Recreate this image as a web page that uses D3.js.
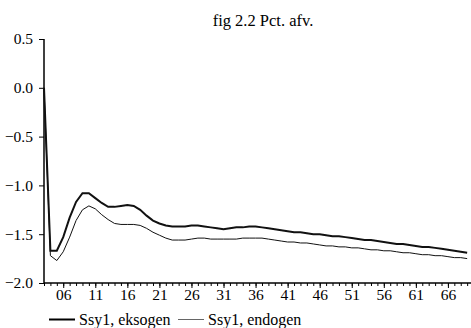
<!DOCTYPE html>
<html>
<head>
<meta charset="utf-8">
<script src="https://cdn.jsdelivr.net/npm/d3@7"></script>
<style>
body { margin: 0; background: #fff; }
svg { display: block; }
text { font-family: "Liberation Serif", "Times New Roman", serif; fill: #000; }
</style>
</head>
<body>
<script>
// periods 03..69
var periods = d3.range(3, 70);

var eksogen = [
    0.00, -1.67, -1.67, -1.53, -1.33, -1.17, -1.08, -1.08, -1.13, -1.18,
    -1.22, -1.22, -1.21, -1.20, -1.21, -1.25, -1.31, -1.36, -1.39, -1.41,
    -1.42, -1.42, -1.42, -1.41, -1.41, -1.42, -1.43, -1.44, -1.45, -1.44,
    -1.43, -1.43, -1.42, -1.42, -1.43, -1.44, -1.45, -1.46, -1.47, -1.48,
    -1.48, -1.49, -1.50, -1.50, -1.51, -1.52, -1.52, -1.53, -1.54, -1.55,
    -1.56, -1.56, -1.57, -1.58, -1.59, -1.60, -1.60, -1.61, -1.62, -1.63,
    -1.63, -1.64, -1.65, -1.66, -1.67, -1.68, -1.69
];

var endogen = [
    0.00, -1.72, -1.77, -1.68, -1.53, -1.36, -1.25, -1.21, -1.24, -1.30,
    -1.35, -1.39, -1.40, -1.40, -1.40, -1.41, -1.44, -1.48, -1.51, -1.54,
    -1.56, -1.56, -1.56, -1.55, -1.54, -1.54, -1.55, -1.55, -1.55, -1.55,
    -1.55, -1.54, -1.54, -1.54, -1.54, -1.55, -1.56, -1.57, -1.58, -1.58,
    -1.59, -1.59, -1.60, -1.61, -1.62, -1.62, -1.63, -1.63, -1.64, -1.64,
    -1.65, -1.66, -1.66, -1.67, -1.67, -1.68, -1.69, -1.69, -1.70, -1.71,
    -1.71, -1.72, -1.72, -1.73, -1.74, -1.74, -1.75
];

var yTicks = [0.5, 0.0, -0.5, -1.0, -1.5, -2.0];
var xLabelTicks = [6, 11, 16, 21, 26, 31, 36, 41, 46, 51, 56, 61, 66];
var seriesNames = ["Ssy1, eksogen", "Ssy1, endogen"];
var title = "fig 2.2 Pct. afv.";

var width = 471, height = 328;
var fontFam = "'Liberation Serif', 'Times New Roman', serif";

var svg = d3.select("body").append("svg")
    .attr("width", width)
    .attr("height", height);

var x = d3.scaleLinear().domain([3, 69.6]).range([44, 471]);
var y = d3.scaleLinear().domain([-2.0, 0.5]).range([283, 39]);

svg.append("text")
    .attr("x", 263)
    .attr("y", 26)
    .attr("text-anchor", "middle")
    .style("font-size", "16.5px")
    .text(title);

// y axis
var yAxis = svg.append("g")
    .attr("transform", "translate(44,0)")
    .attr("font-family", fontFam)
    .call(d3.axisLeft(y).tickValues(yTicks).tickFormat(d3.format(".1f")).tickSize(5).tickPadding(6));
yAxis.select(".domain").attr("d", "M0," + y(0.5) + "V" + y(-2.0)).attr("stroke-width", 1.5);

// x axis, minor ticks every period
var xAxis = svg.append("g")
    .attr("transform", "translate(0," + y(-2.0) + ")")
    .call(d3.axisBottom(x).tickValues(periods).tickSize(3).tickFormat(""));
xAxis.select(".domain").attr("d", "M44,0H471").attr("stroke-width", 1.5);

svg.append("g")
    .attr("transform", "translate(0," + y(-2.0) + ")")
    .attr("font-family", fontFam)
    .call(d3.axisBottom(x).tickValues(xLabelTicks).tickSize(5).tickPadding(1)
        .tickFormat(function(d){ return d3.format("02d")(d); }))
    .call(function(g){ g.select(".domain").remove(); });

svg.selectAll(".tick text")
    .style("font-size", "15.5px")
    .style("font-family", fontFam);

var line = d3.line()
    .x(function(d, i) { return x(periods[i]); })
    .y(function(d) { return y(d); });

svg.append("path")
    .datum(endogen)
    .attr("fill", "none")
    .attr("stroke", "#111")
    .attr("stroke-width", 1)
    .attr("d", line);

svg.append("path")
    .datum(eksogen)
    .attr("fill", "none")
    .attr("stroke", "#111")
    .attr("stroke-width", 2)
    .attr("d", line);

// legend
var legendX = [49, 178];
var legendW = [2, 1];
seriesNames.forEach(function(name, i){
    var g = svg.append("g").attr("transform", "translate(" + legendX[i] + ",319.5)");
    g.append("line")
        .attr("x1", 0).attr("x2", 26)
        .attr("y1", 0).attr("y2", 0)
        .attr("stroke", i == 0 ? "#000" : "#666")
        .attr("stroke-width", legendW[i]);
    g.append("text")
        .attr("x", 30)
        .attr("y", 5)
        .style("font-size", "16px")
        .text(name);
});
</script>
</body>
</html>
